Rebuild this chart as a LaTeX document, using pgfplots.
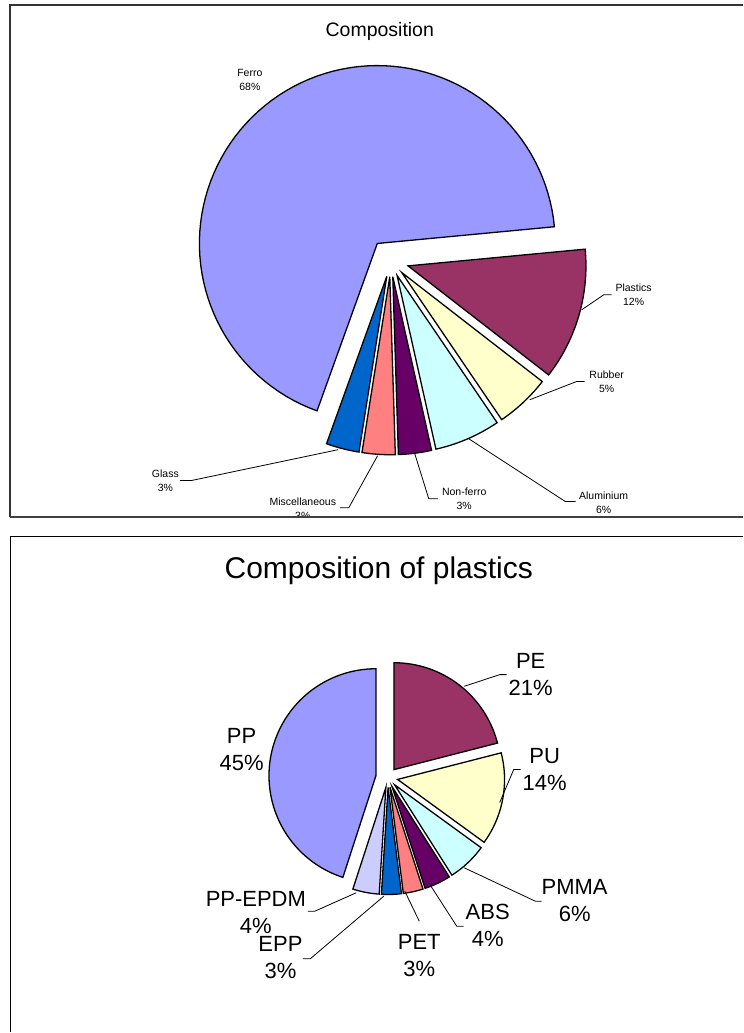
\documentclass[border=0pt]{standalone}
\usepackage{pgfplots}
\usepackage{pgfplotstable}
\pgfplotsset{compat=1.18}
\usepackage{fontspec}
\setmainfont{Liberation Sans}

\definecolor{cFerro}{HTML}{9999FF}
\definecolor{cPlas}{HTML}{993366}
\definecolor{cRub}{HTML}{FFFFCC}
\definecolor{cAlu}{HTML}{CCFFFF}
\definecolor{cNon}{HTML}{660066}
\definecolor{cMisc}{HTML}{FF8080}
\definecolor{cGlass}{HTML}{0066CC}
\definecolor{cPPE}{HTML}{CCCCFF}

% slices in clockwise order; value in percent, explode offset in px
\pgfplotstableread{
name value color explode
Ferro 68 cFerro 22
Plastics 12 cPlas 18
Rubber 5 cRub 16
Aluminium 6 cAlu 16
Nonferro 3 cNon 16
Misc 3 cMisc 16
Glass 3 cGlass 16
}\composition

\pgfplotstableread{
name value color explode
PE 21 cPlas 10
PU 14 cRub 10
PMMA 6 cAlu 10
ABS 4 cNon 10
PET 3 cMisc 10
EPP 3 cGlass 10
PPEPDM 4 cPPE 10
PP 45 cFerro 12
}\plastics

\newcommand{\drawpie}[5]{% #1 table, #2 start angle, #3 cx, #4 cy, #5 radius
  \pgfplotstablegetrowsof{#1}%
  \pgfmathtruncatemacro\lastrow{\pgfplotsretval-1}%
  \pgfmathsetmacro\curang{#2}%
  \pgfplotsforeachungrouped \i in {0,...,\lastrow}{%
    \pgfplotstablegetelem{\i}{value}\of{#1}\let\val\pgfplotsretval
    \pgfplotstablegetelem{\i}{color}\of{#1}\let\col\pgfplotsretval
    \pgfplotstablegetelem{\i}{explode}\of{#1}\let\expl\pgfplotsretval
    \pgfmathsetmacro\nextang{\curang-3.6*\val}%
    \pgfmathsetmacro\midang{(\curang+\nextang)/2}%
    \pgfmathsetmacro\sx{#3+\expl*cos(\midang)}%
    \pgfmathsetmacro\sy{#4-\expl*sin(\midang)}%
    \edef\doslice{\noexpand\addplot[draw=black, mark=none, line width=1.3pt, line join=miter, fill=\col, domain=\nextang:\curang, samples=90, variable=\noexpand\t] ({\sx+#5*cos(\noexpand\t)},{\sy-#5*sin(\noexpand\t)}) -- (axis cs:\sx,\sy) -- cycle;}%
    \doslice
    \global\let\curang\nextang
  }%
}

\begin{document}
\begin{tikzpicture}
\begin{axis}[
  width=743pt, height=1033pt, scale only axis,
  xmin=0, xmax=743, ymin=0, ymax=1033,
  y dir=reverse, hide axis, clip=false]

% ---------- top chart ----------
\drawpie{\composition}{250.2}{391}{261}{178}

\node[font=\fontsize{19.5}{21}\selectfont] at (axis cs:380,31) {Composition};

\begin{scope}[font=\fontsize{10.5}{14}\selectfont]
\node[align=center] at (axis cs:250,79.5) {Ferro\\68\%};
\node[align=center] at (axis cs:634,295) {Plastics\\12\%};
\node[align=center] at (axis cs:607,381.7) {Rubber\\5\%};
\node[align=center] at (axis cs:604,503) {Aluminium\\6\%};
\node[align=center] at (axis cs:464.5,499.5) {Non-ferro\\3\%};
\node[align=center] at (axis cs:165.5,480.7) {Glass\\3\%};
\begin{scope}
\clip (axis cs:0,0) rectangle (axis cs:743,516);
\node[align=center] at (axis cs:303,509) {Miscellaneous\\3\%};
\end{scope}
\end{scope}

\begin{scope}[line width=0.8pt]
\draw (axis cs:582,310) -- (axis cs:604,295) -- (axis cs:612,295);
\draw (axis cs:530,400) -- (axis cs:577,381.7) -- (axis cs:585,381.7);
\draw (axis cs:469,439) -- (axis cs:565.5,501.7) -- (axis cs:576,501.7);
\draw (axis cs:414.7,453) -- (axis cs:429,499) -- (axis cs:438,499);
\draw (axis cs:377.8,456) -- (axis cs:349,508) -- (axis cs:340,508);
\draw (axis cs:338,450) -- (axis cs:192,480.7) -- (axis cs:180,480.7);
\end{scope}

% frame of top chart
\draw[line width=1.2pt, black!80] (axis cs:743,5) -- (axis cs:10,5) -- (axis cs:10,517);
\draw[line width=1.8pt, black!75] (axis cs:10,517) -- (axis cs:743,517);

% ---------- bottom chart ----------
\drawpie{\plastics}{90}{388}{778}{107}

\node[font=\fontsize{30}{32}\selectfont] at (axis cs:379,571) {Composition of plastics};

\begin{scope}[font=\fontsize{22}{27}\selectfont]
\node[align=center] at (axis cs:531,675) {PE\\21\%};
\node[align=center] at (axis cs:545,770) {PU\\14\%};
\node[align=center] at (axis cs:575,901.4) {PMMA\\6\%};
\node[align=center] at (axis cs:488,925.9) {ABS\\4\%};
\node[align=center] at (axis cs:419.5,955.9) {PET\\3\%};
\node[align=center] at (axis cs:280.6,958) {EPP\\3\%};
\node[align=center] at (axis cs:256,913.3) {PP-EPDM\\4\%};
\node[align=center] at (axis cs:241.7,749.5) {PP\\45\%};
\end{scope}

\begin{scope}[line width=0.8pt]
\draw (axis cs:464.5,686.7) -- (axis cs:500,675) -- (axis cs:507,675);
\draw (axis cs:500,803) -- (axis cs:514,770) -- (axis cs:521,770);
\draw (axis cs:464.5,868.3) -- (axis cs:535.6,901.7) -- (axis cs:542,901.7);
\draw (axis cs:429,883.3) -- (axis cs:457,926.7) -- (axis cs:464,926.7);
\draw (axis cs:405,891.7) -- (axis cs:419.5,921.7);
\draw (axis cs:384,896.7) -- (axis cs:310.5,959.3) -- (axis cs:303,959.3);
\draw (axis cs:356.4,893.3) -- (axis cs:315,911.7) -- (axis cs:308,911.7);
\end{scope}

% frame of bottom chart
\draw[line width=1.2pt, black] (axis cs:743,536.7) -- (axis cs:10.7,536.7) -- (axis cs:10.7,1033);

\end{axis}
\end{tikzpicture}
\end{document}
